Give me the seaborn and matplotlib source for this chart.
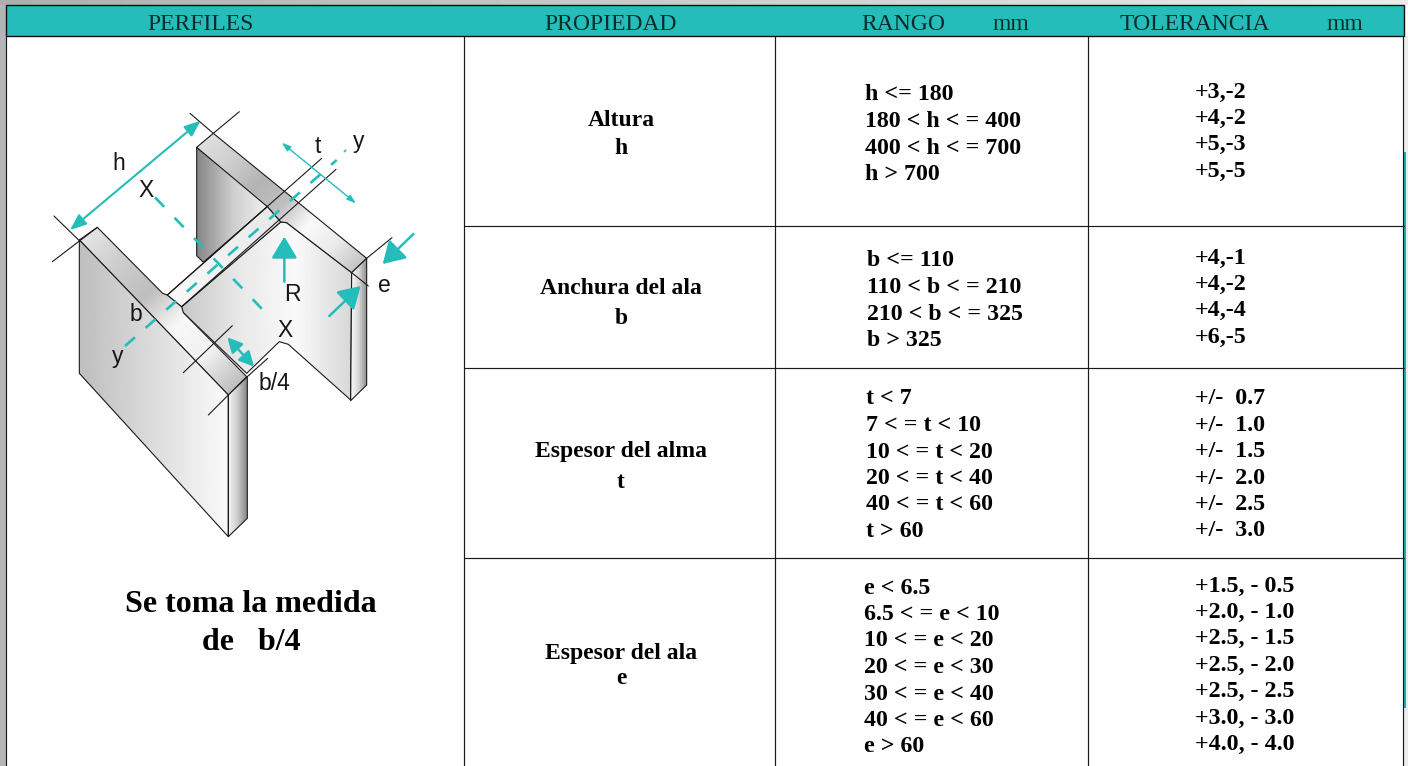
import numpy as np
import matplotlib
matplotlib.use('Agg')
import matplotlib.pyplot as plt
import seaborn as sns
from matplotlib.patches import Polygon

sns.set_theme(style='white')
plt.rcParams['font.family'] = ['Liberation Serif', 'DejaVu Serif']

TEAL = '#25bdba'
TEXT_DROP = 3  # matplotlib centres on the glyph box, the page sits a bit lower

# Table contents
header_labels = ['PERFILES', 'PROPIEDAD', 'RANGO', 'mm', 'TOLERANCIA', 'mm']
header_x = [201, 611, 903, 1011, 1195, 1345]
header_y = [21, 21, 21, 21, 21, 22]

property_names = ['Altura', 'Anchura del ala', 'Espesor del alma', 'Espesor del ala']
property_symbols = ['h', 'b', 't', 'e']
property_name_y = [118, 286, 448, 650]
property_symbol_y = [145, 316, 479, 676]

ranges_h = ['h <= 180', '180 < h < = 400', '400 < h < = 700', 'h > 700']
ranges_b = ['b <= 110', '110 < b < = 210', '210 < b < = 325', 'b > 325']
ranges_t = ['t < 7', '7 < = t < 10', '10 < = t < 20', '20 < = t < 40', '40 < = t < 60', 't > 60']
ranges_e = ['e < 6.5', '6.5 < = e < 10', '10 < = e < 20', '20 < = e < 30', '30 < = e < 40',
            '40 < = e < 60', 'e > 60']
ranges_y0 = [92, 258, 396, 585]
ranges_x = [865, 867, 866, 864]

tol_h = ['+3,-2', '+4,-2', '+5,-3', '+5,-5']
tol_b = ['+4,-1', '+4,-2', '+4,-4', '+6,-5']
tol_t = ['+/-  0.7', '+/-  1.0', '+/-  1.5', '+/-  2.0', '+/-  2.5', '+/-  3.0']
tol_e = ['+1.5, - 0.5', '+2.0, - 1.0', '+2.5, - 1.5', '+2.5, - 2.0', '+2.5, - 2.5',
         '+3.0, - 3.0', '+4.0, - 4.0']
tol_y0 = [89, 255, 396, 583]

note_lines = ['Se toma la medida', 'de   b/4']
note_y = [602, 639]

col_edges = [464, 775, 1088, 1403]
row_edges = [226, 368, 558]

# Drawing of the section, in 3x crop coordinates
outer_left = [(118, 450), (565, 915), (565, 1340), (118, 850)]
end_left = [(565, 915), (622, 860), (622, 1285), (565, 1340)]
inner_back = [(470, 172), (672, 335), (682, 350), (490, 517), (470, 497)]
inner_right = [(425, 650), (722, 396), (740, 398), (935, 548), (932, 930), (745, 763),
               (718, 755), (620, 850), (430, 668), (422, 658)]
end_right = [(935, 548), (980, 505), (980, 885), (932, 932)]
flange_left = [(118, 450), (172, 412), (368, 610), (382, 615), (425, 650), (430, 668),
               (620, 860), (565, 915)]
flange_back = [(470, 172), (520, 130), (980, 505), (935, 548), (740, 398), (722, 396),
               (682, 350)]
web = [(382, 615), (682, 350), (722, 396), (425, 650)]

ext_lines = [((42, 378), (118, 452)), ((37, 515), (172, 412)), ((450, 70), (520, 130)),
             ((520, 130), (598, 65)), ((382, 615), (845, 205)), ((425, 650), (888, 238)),
             ((980, 505), (1056, 443)), ((935, 548), (985, 588)), ((430, 848), (577, 707)),
             ((505, 975), (565, 915)), ((622, 860), (683, 805))]

dim_labels = ['h', 'X', 't', 'y', 'R', 'e', 'b', 'y', 'X', 'b/4']
dim_x = [237, 317, 832, 957, 757, 1033, 288, 232, 735, 703]
dim_y = [220, 301, 170, 155, 613, 586, 673, 800, 721, 881]


def px(points):
    # crop coordinates back to picture pixels
    return [(40 + x / 3, 90 + y / 3) for x, y in points]


def rule(ax, xs, ys, color='#1a1a1a', lw=0.85, **kw):
    sns.lineplot(x=xs, y=ys, estimator=None, sort=False, color=color, linewidth=lw, ax=ax,
                 legend=False, **kw)


def shade(ax, points, start, end, levels, z):
    # grey gradient along start->end, clipped to the polygon
    pts = np.array(px(points))
    start, end = np.array(px([start, end]))
    x0, y0 = pts.min(axis=0)
    x1, y1 = pts.max(axis=0)
    xx, yy = np.meshgrid(np.linspace(x0, x1, 200), np.linspace(y0, y1, 200))
    d = end - start
    u = ((xx - start[0]) * d[0] + (yy - start[1]) * d[1]) / (d @ d)
    stops = np.linspace(0, 1, len(levels))
    img = np.interp(u, stops, levels)
    im = ax.imshow(img, extent=(x0, x1, y1, y0), cmap='gray', vmin=0, vmax=255, aspect='auto',
                   zorder=z, interpolation='bilinear')
    patch = Polygon(pts, closed=True, fc='none', ec='#1a1a1a', lw=0.8, zorder=z + 0.1,
                    joinstyle='round')
    ax.add_patch(patch)
    im.set_clip_path(patch)


def arrow(ax, a, b, style, lw, scale):
    (xa, ya), (xb, yb) = px([a, b])
    ax.annotate('', xy=(xb, yb), xytext=(xa, ya), zorder=6,
                arrowprops=dict(arrowstyle=style, color=TEAL, lw=lw, mutation_scale=scale,
                                shrinkA=0, shrinkB=0))


fig = plt.figure(figsize=(14.08, 7.66), dpi=100, facecolor='white')
ax = fig.add_axes([0, 0, 1, 1])
ax.set_xlim(0, 1408)
ax.set_ylim(766, 0)
ax.axis('off')

# window chrome around the page
ax.add_patch(plt.Rectangle((0, 0), 6, 766, fc='#b4b5b7', ec='none', zorder=0))
ax.imshow(np.linspace(175, 235, 256).reshape(1, -1), extent=(0, 1408, 5, 0), cmap='gray',
          vmin=0, vmax=255, aspect='auto', zorder=0)
ax.add_patch(plt.Rectangle((1403, 36), 5, 730, fc='#ececec', ec='none', zorder=0.2))
ax.add_patch(plt.Rectangle((1403, 152), 3, 556, fc='#0fb3b3', ec='none', zorder=0.5))

# header band
ax.add_patch(plt.Rectangle((6, 5), 1398, 31, fc=TEAL, ec='#101010', lw=1.0, zorder=2))
for label, x, y in zip(header_labels, header_x, header_y):
    ax.text(x, y + TEXT_DROP, label, ha='center', va='center', fontsize=17, color='#0c2b2b', zorder=3)

# table rules
for x in col_edges:
    rule(ax, [x, x], [36, 766], zorder=1)
for y in row_edges:
    rule(ax, [464, 1404], [y, y], zorder=1)
rule(ax, [6, 6], [36, 766], zorder=1)

# table text
for name, sym, y1, y2 in zip(property_names, property_symbols, property_name_y, property_symbol_y):
    ax.text(621, y1 + TEXT_DROP, name, ha='center', va='center', fontsize=17, fontweight='bold', color='black')
    ax.text(621, y2 + TEXT_DROP, sym, ha='center', va='center', fontsize=17, fontweight='bold', color='black')

for lines, x, y0 in zip([ranges_h, ranges_b, ranges_t, ranges_e], ranges_x, ranges_y0):
    for i, line in enumerate(lines):
        ax.text(x, y0 + TEXT_DROP + i * 26.5, line, ha='left', va='center', fontsize=17.2, fontweight='bold',
                color='black')

for lines, y0 in zip([tol_h, tol_b, tol_t, tol_e], tol_y0):
    for i, line in enumerate(lines):
        ax.text(1195, y0 + TEXT_DROP + i * 26.4, line, ha='left', va='center', fontsize=17.3, fontweight='bold',
                color='black')

for line, y in zip(note_lines, note_y):
    ax.text(251, y + TEXT_DROP, line, ha='center', va='center', fontsize=23, fontweight='bold', color='black')

# section drawing
shade(ax, inner_back, (470, 300), (680, 300), [135, 205, 240], 3)
shade(ax, inner_right, (425, 600), (935, 600), [200, 232, 250, 215], 3)
shade(ax, flange_back, (520, 130), (958, 525), [222, 205, 180, 190, 250, 235, 195], 3.4)
shade(ax, flange_left, (145, 430), (592, 887), [228, 205, 190, 248, 240, 190], 3.4)
shade(ax, web, (382, 615), (722, 396), [248, 240, 232], 3.5)
shade(ax, outer_left, (118, 700), (565, 700), [190, 220, 250], 3.6)
shade(ax, end_left, (565, 1100), (622, 1100), [245, 205, 135], 3.6)
shade(ax, end_right, (935, 700), (980, 700), [245, 210, 140], 3.6)

for a, b in ext_lines:
    (xa, ya), (xb, yb) = px([a, b])
    rule(ax, [xa, xb], [ya, yb], lw=0.8, zorder=5)

# dashed centre lines
(xa, ya), (xb, yb) = px([(255, 768), (890, 210)])
rule(ax, [xa, xb], [ya, yb], color=TEAL, lw=1.9, linestyle=(0, (5.0, 5.4)), zorder=5.5)
(xa, ya), (xb, yb) = px([(345, 322), (690, 682)])
rule(ax, [xa, xb], [ya, yb], color=TEAL, lw=1.9, linestyle=(0, (5.0, 5.7)), zorder=5.5)
(xa, ya), (xb, yb) = px([(913, 185), (917, 181)])
rule(ax, [xa, xb], [ya, yb], color=TEAL, lw=1.2, zorder=5.5)

arrow(ax, (90, 420), (482, 92), '<|-|>,head_length=0.7,head_width=0.28', 1.5, 14)
arrow(ax, (725, 158), (948, 340), '<|-|>,head_length=0.45,head_width=0.15', 1.0, 12)
arrow(ax, (733, 575), (733, 440), '-|>,head_length=0.6,head_width=0.36', 1.8, 22)
arrow(ax, (1120, 432), (1028, 522), '-|>,head_length=0.6,head_width=0.36', 1.8, 22)
arrow(ax, (868, 678), (962, 588), '-|>,head_length=0.6,head_width=0.36', 1.8, 22)
arrow(ax, (562, 742), (642, 830), '<|-|>,head_length=0.55,head_width=0.28', 1.8, 16)

for label, x, y in zip(dim_labels, dim_x, dim_y):
    (xt, yt), = px([(x, y)])
    ax.text(xt, yt, label, ha='center', va='center', fontsize=16.5, family='Liberation Sans',
            color='#161616', zorder=7)

ax.set_xlim(0, 1408)
ax.set_ylim(766, 0)
fig.savefig('out.png', dpi=100)
